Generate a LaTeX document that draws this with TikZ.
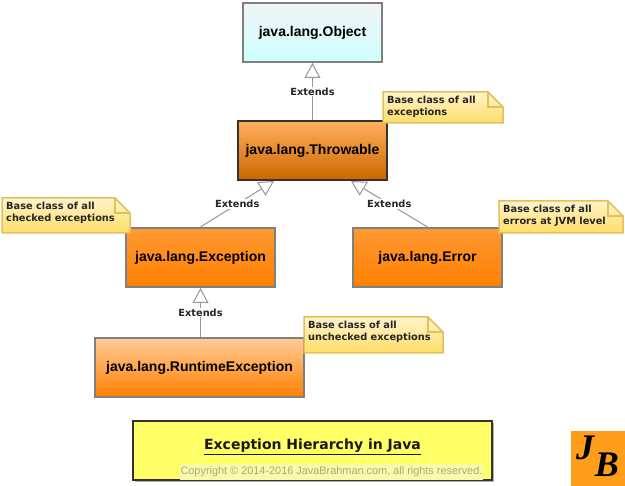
\documentclass[tikz,border=0pt]{standalone}
\usepackage{xcolor}
\usepackage{fontspec}
\usepackage{tikz}
\usetikzlibrary{arrows.meta, positioning, calc, shadows}
\setmainfont{Liberation Sans}
\newfontfamily\notefont{DejaVu Sans}
\newfontfamily\markfont{Liberation Serif}
\definecolor{jbgray}{RGB}{128,128,128}
\definecolor{jbdark}{RGB}{51,51,51}
\definecolor{jbline}{RGB}{150,150,150}
\definecolor{jborange}{RGB}{255,128,0}
\definecolor{jbnote}{RGB}{226,192,92}
\definecolor{jbnotetop}{RGB}{255,244,204}
\definecolor{jbnotebot}{RGB}{255,221,102}
\definecolor{jbobjtop}{RGB}{240,244,246}
\definecolor{jbobjbot}{RGB}{207,255,255}
\definecolor{jbthrowtop}{RGB}{255,176,96}
\definecolor{jbthrowbot}{RGB}{204,102,0}
\definecolor{jbextop}{RGB}{255,153,51}
\definecolor{jbrttop}{RGB}{255,204,153}
\definecolor{jbtitle}{RGB}{255,255,102}
\definecolor{jbcopybg}{RGB}{250,250,170}
\definecolor{jbcopy}{RGB}{170,170,120}
\definecolor{jbmark}{RGB}{255,158,27}
\newcommand{\notebox}[6]{%
  \path[noteshape] (#2,#3) -- (#4-15,#3) -- (#4,#3+15) -- (#4,#5) -- (#2,#5) -- cycle;
  \draw[notefold] (#4-15,#3) -- (#4-15,#3+15) -- (#4,#3+15);
  \node[notetext, anchor=west] (#1) at (#2+4,#3+14.5) {#6};
}

\begin{document}
\begin{tikzpicture}[x=1pt, y=-1pt,
  cls/.style={rectangle, draw=jbgray, line width=2pt, minimum width=149pt, minimum height=59pt, align=center, font=\fontsize{14}{16}\selectfont\bfseries, text=black},
  objcls/.style={cls, top color=jbobjtop, bottom color=jbobjbot, minimum width=139pt},
  topcls/.style={cls, draw=jbdark, top color=jbthrowtop, bottom color=jbthrowbot},
  excls/.style={cls, top color=jbextop, bottom color=jborange},
  rtcls/.style={cls, top color=jbrttop, bottom color=jborange, minimum width=209pt},
  titlebox/.style={rectangle, draw=jbdark, fill=jbtitle, line width=2pt, minimum width=359pt, minimum height=59pt, drop shadow={shadow xshift=2pt, shadow yshift=-2pt, fill=gray!60, opacity=1}},
  noteshape/.style={draw=jbnote, line width=1.5pt, top color=jbnotetop, bottom color=jbnotebot},
  notefold/.style={draw=jbnote, line width=1.5pt},
  notetext/.style={inner sep=0pt, align=left, font=\notefont\fontsize{9.8}{12}\selectfont\bfseries, text=black!85},
  ext/.style={-{Triangle[open, length=15pt, width=16pt, fill=white]}, draw=jbline, line width=1pt},
  extlabel/.style={fill=white, inner sep=1pt, font=\notefont\fontsize{9.8}{12}\selectfont\bfseries, text=black!85},
  logoletter/.style={font=\markfont\fontsize{36}{36}\selectfont\bfseries\itshape, inner sep=0pt}
]
\useasboundingbox (0,0) rectangle (625,486);
\node[objcls] (object) at (312.5,32.5) {java.lang.Object};
\node[topcls, below=57pt of object] (throwable) {java.lang.Throwable};
\node[excls, below=46pt of throwable, xshift=-112pt] (exception) {java.lang.Exception};
\node[excls, below=46pt of throwable, xshift=115pt] (error) {java.lang.Error};
\node[rtcls, below=49pt of exception, xshift=-1pt] (runtime) {java.lang.RuntimeException};
\node[titlebox, below=22pt of runtime, xshift=113pt] (title) {};
\node[font=\notefont\fontsize{14}{16}\selectfont\bfseries, text=black!90] (titletext) at (312.5,447) {\underline{Exception Hierarchy in Java}};
\node[fill=jbcopybg, text=jbcopy, inner sep=0pt, minimum width=303pt, minimum height=16pt, font=\fontsize{10.9}{12}\selectfont] (copyright) at (331.5,472) {Copyright © 2014-2016 JavaBrahman.com, all rights reserved.};
\node[fill=jbmark, inner sep=0pt, minimum width=54pt, minimum height=55pt] (logo) at (598,458.5) {};
\node[logoletter] (logoj) at (585,448) {J};
\node[logoletter] (logob) at (607,465) {B};

\draw[ext] (throwable.north) -- node[extlabel]{Extends} (object.south);
\draw[ext] (exception.north) -- node[extlabel]{Extends} ($(throwable.south)+(-38.5,0)$);
\draw[ext] (error.north) -- node[extlabel]{Extends} ($(throwable.south)+(38.5,0)$);
\draw[ext] (runtime.north -| exception.south) -- node[extlabel]{Extends} (exception.south);

\notebox{throwablenote}{383}{92}{503}{123}{Base class of all\\exceptions}
\notebox{exceptionnote}{2}{198}{130}{233}{Base class of all\\checked exceptions}
\notebox{errornote}{499}{201}{623}{233}{Base class of all\\errors at JVM level}
\notebox{runtimenote}{304}{317}{443}{353}{Base class of all\\unchecked exceptions}
\end{tikzpicture}
\end{document}
